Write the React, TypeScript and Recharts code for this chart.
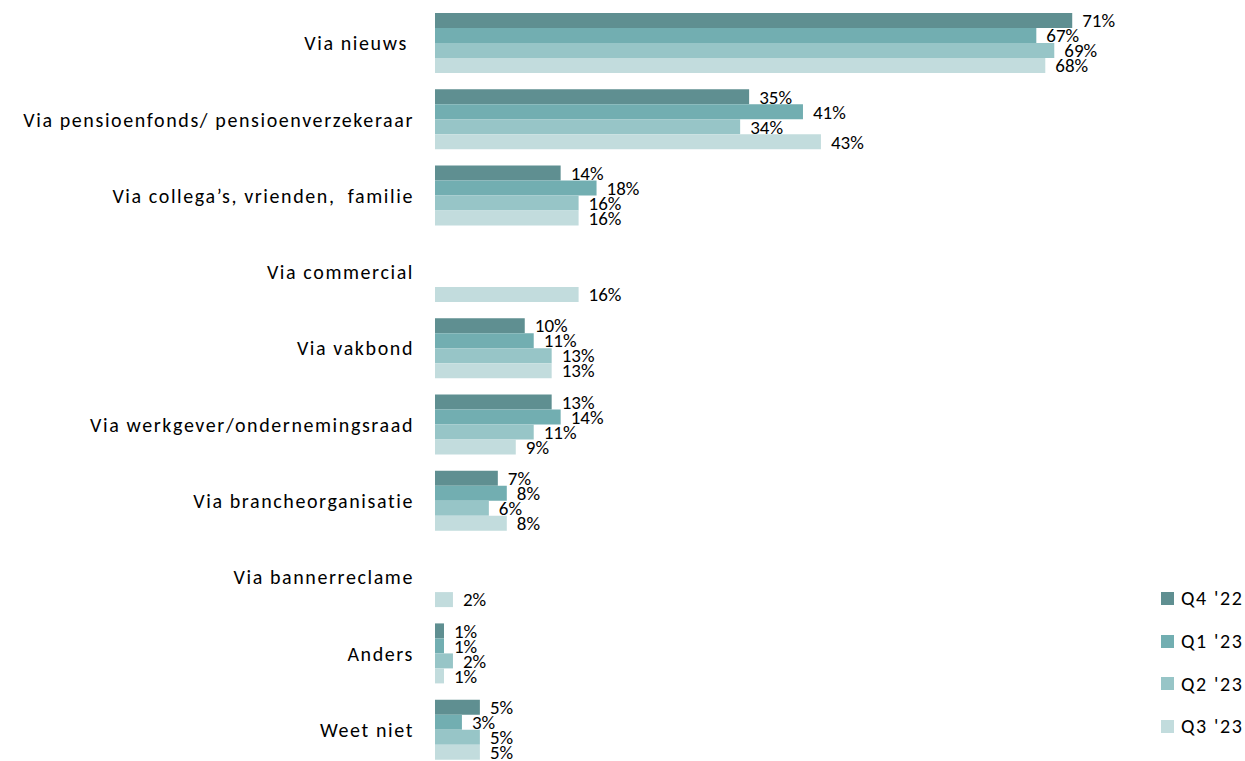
import * as React from "react";
import { BarChart, Bar, XAxis, YAxis, LabelList } from "recharts";

const categories = [
  "Via nieuws\u00a0",
  "Via pensioenfonds/ pensioenverzekeraar",
  "Via collega’s, vrienden,\u00a0 familie",
  "Via commercial",
  "Via vakbond",
  "Via werkgever/ondernemingsraad",
  "Via brancheorganisatie",
  "Via bannerreclame",
  "Anders",
  "Weet niet",
];

const q4_22 = [71, 35, 14, null, 10, 13, 7, null, 1, 5];
const q1_23 = [67, 41, 18, null, 11, 14, 8, null, 1, 3];
const q2_23 = [69, 34, 16, null, 13, 11, 6, null, 2, 5];
const q3_23 = [68, 43, 16, 16, 13, 9, 8, 2, 1, 5];

const SERIES = [
  { key: "q4_22", name: "Q4 '22", color: "#5f8f91" },
  { key: "q1_23", name: "Q1 '23", color: "#72aeb1" },
  { key: "q2_23", name: "Q2 '23", color: "#97c5c7" },
  { key: "q3_23", name: "Q3 '23", color: "#c2dcdd" },
];

const data = categories.map((name, i) => ({
  name,
  q4_22: q4_22[i],
  q1_23: q1_23[i],
  q2_23: q2_23[i],
  q3_23: q3_23[i],
}));

const FONT = 'Carlito, Calibri, "Noto Sans", sans-serif';

const pct = (v: any) => (v == null ? "" : `${v}%`);

function LegendBox() {
  return (
    <div
      style={{
        position: "absolute",
        left: 1161,
        top: 577,
        fontFamily: FONT,
        fontSize: 20,
        letterSpacing: 1.6,
        color: "#000",
      }}
    >
      {SERIES.map((s) => (
        <div
          key={s.key}
          style={{ display: "flex", alignItems: "center", height: 42.7 }}
        >
          <span
            style={{
              width: 13,
              height: 13,
              background: s.color,
              display: "inline-block",
              marginRight: 7,
            }}
          />
          <span>{s.name}</span>
        </div>
      ))}
    </div>
  );
}

export default function App() {
  return (
    <div
      style={{
        position: "absolute",
        left: 0,
        top: 0,
        width: 1245,
        height: 761,
        overflow: "hidden",
        background: "#fff",
      }}
    >
      <BarChart
        width={1245}
        height={768}
        data={data}
        layout="vertical"
        margin={{ top: 5, right: 92, bottom: 0, left: 0 }}
        barGap={0}
        barCategoryGap={8}
      >
        <XAxis type="number" domain={[0, 80]} hide />
        <YAxis
          type="category"
          dataKey="name"
          width={435}
          tickLine={false}
          axisLine={false}
          tickMargin={15}
          tick={{ fontSize: 20, fill: "#000", fontFamily: FONT, letterSpacing: 1.6 }}
          interval={0}
        />
        {SERIES.map((s) => (
          <Bar
            key={s.key}
            dataKey={s.key}
            name={s.name}
            fill={s.color}
            barSize={15}
            isAnimationActive={false}
          >
            <LabelList
              dataKey={s.key}
              position="right"
              offset={10}
              formatter={pct}
              style={{ fontSize: 19, fill: "#000", fontFamily: FONT }}
            />
          </Bar>
        ))}
      </BarChart>
      <LegendBox />
    </div>
  );
}
